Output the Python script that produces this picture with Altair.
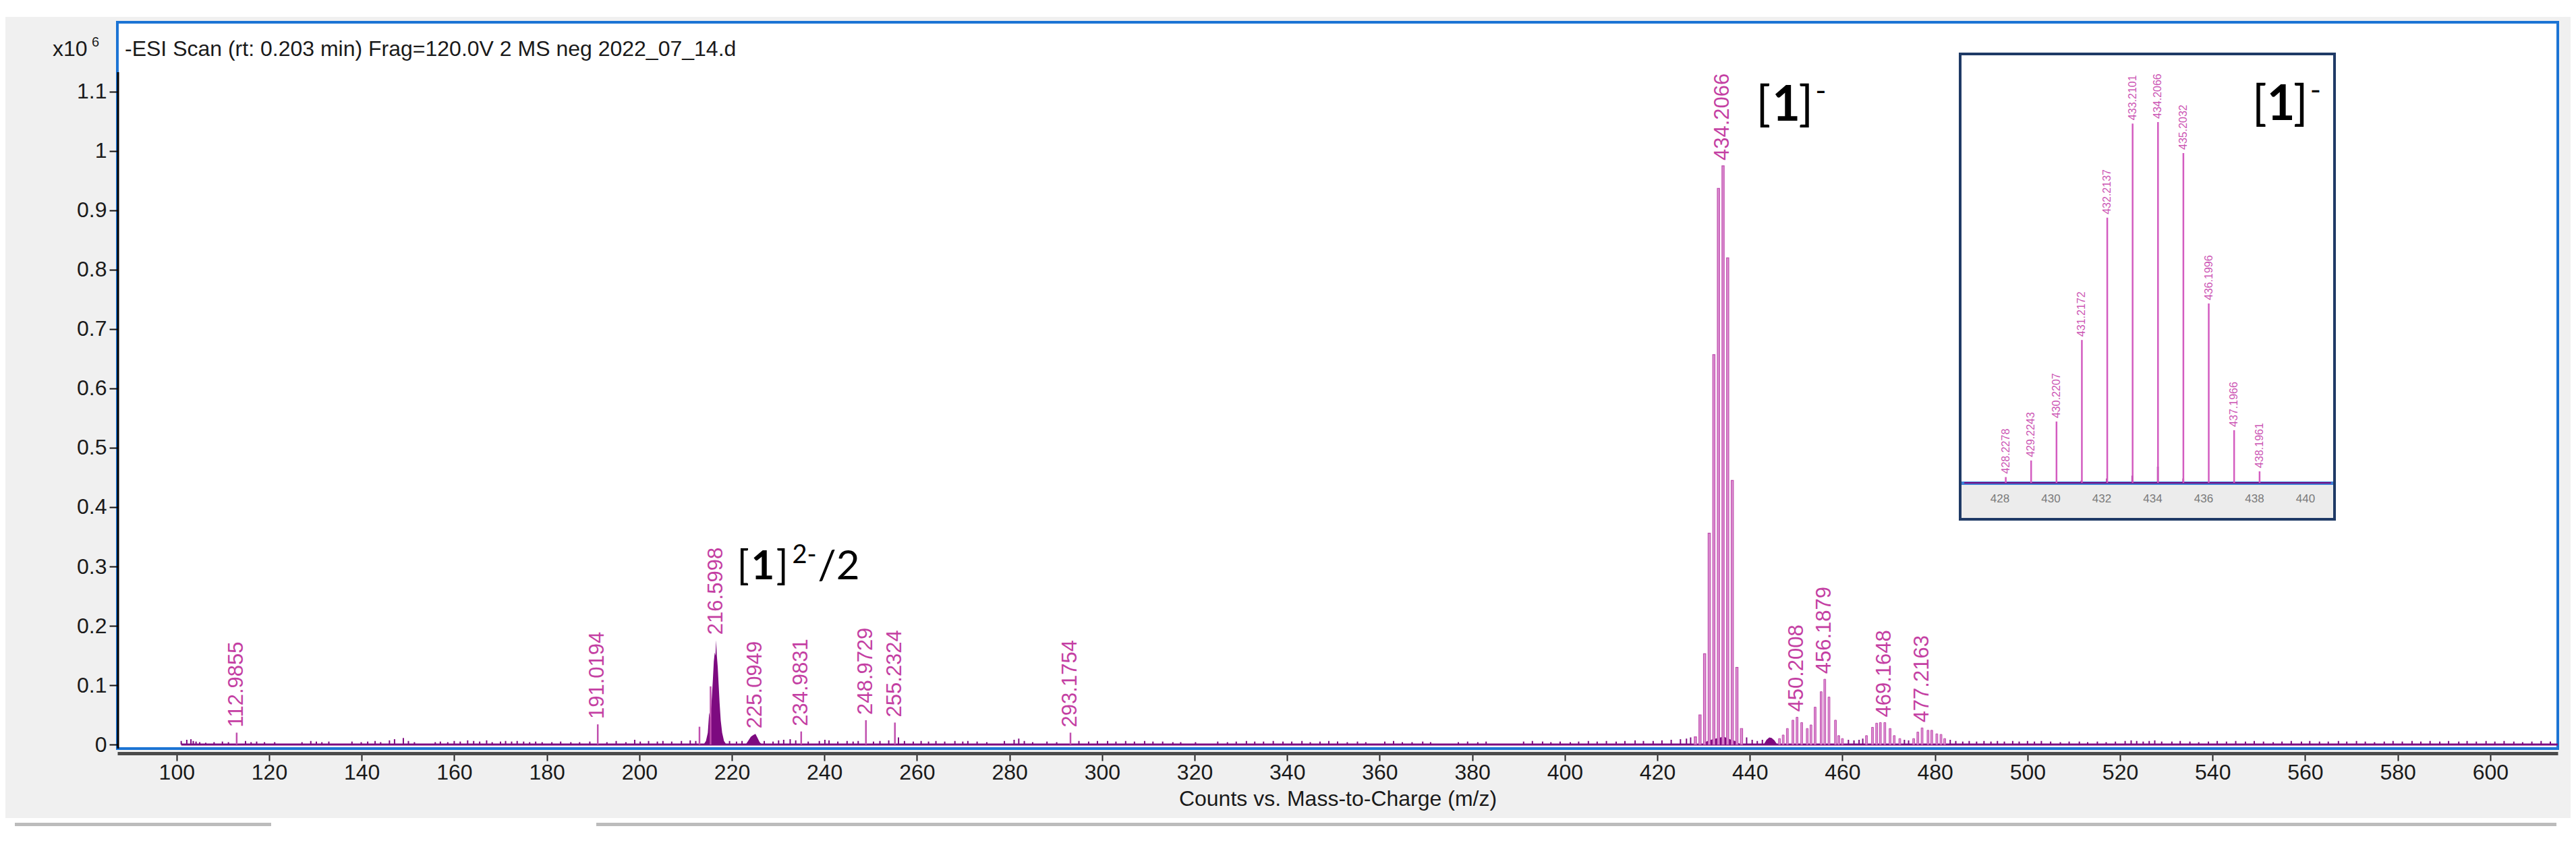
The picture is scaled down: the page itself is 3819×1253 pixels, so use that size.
import altair as alt
import pandas as pd

# ---------------- data (intensity in units of 10^6 counts) ----------------
label_mz = [112.9855, 191.0194, 216.5998, 225.0949, 234.9831, 248.9729,
            255.2324, 293.1754, 434.2066, 450.2008, 456.1879, 469.1648, 477.2163]
label_int = [0.020, 0.034, 0.176, 0.018, 0.022, 0.041,
             0.037, 0.020, 0.975, 0.046, 0.110, 0.037, 0.028]

spike_mz = [112.9855, 191.0194, 213.0, 215.4, 234.9831, 248.9729, 255.2324, 293.1754]
spike_int = [0.020, 0.034, 0.030, 0.098, 0.022, 0.041, 0.037, 0.020]

iso_mz = [428.2278, 429.2243, 430.2207, 431.2172, 432.2137, 433.2101,
          434.2066, 435.2032, 436.1996, 437.1966, 438.1961]
iso_int = [0.013, 0.050, 0.153, 0.356, 0.657, 0.937, 0.975, 0.820, 0.445, 0.130, 0.027]

adduct_mz = [446.4, 447.2, 448.1, 449.3, 450.2008, 451.2, 452.4, 453.2, 454.1, 455.4,
             456.1879, 457.1, 458.5, 459.2, 460.0, 465.2, 466.5, 467.4, 468.2,
             469.1648, 470.3, 471.2, 472.4, 475.4, 476.3, 477.2163, 478.5, 479.3,
             480.4, 481.3, 482.1]
adduct_int = [0.010, 0.016, 0.027, 0.041, 0.046, 0.037, 0.027, 0.033, 0.063, 0.089,
              0.110, 0.080, 0.041, 0.015, 0.010, 0.015, 0.029, 0.036, 0.037,
              0.037, 0.027, 0.015, 0.010, 0.010, 0.021, 0.028, 0.024, 0.024,
              0.018, 0.017, 0.010]

# dark filled profile regions
prof_group = (["a"] * 19) + (["b"] * 8) + (["c"] * 6) + (["d"] * 9)
prof_mz = [213.9, 214.4, 214.8, 215.1, 215.3, 215.6, 215.9, 216.1, 216.3, 216.45,
           216.6, 216.75, 216.95, 217.15, 217.35, 217.6, 217.9, 218.3, 218.8,
           223.0, 223.6, 224.1, 224.6, 225.1, 225.5, 226.0, 226.5,
           443.0, 443.6, 444.2, 444.7, 445.3, 445.9,
           429.8, 430.6, 431.6, 432.6, 433.6, 434.4, 435.6, 436.8, 438.0]
prof_int = [0.0, 0.006, 0.020, 0.054, 0.045, 0.070, 0.110, 0.140, 0.155, 0.150,
            0.176, 0.150, 0.130, 0.100, 0.070, 0.040, 0.020, 0.006, 0.0,
            0.0, 0.007, 0.013, 0.016, 0.018, 0.012, 0.004, 0.0,
            0.0, 0.008, 0.012, 0.011, 0.007, 0.0,
            0.0, 0.005, 0.008, 0.010, 0.012, 0.013, 0.009, 0.006, 0.0]

noise_mz = [101.0, 102.2, 103.1, 103.6, 104.2, 105.0, 106.3, 108.1, 109.9, 111.2, 114.9, 116.1,
            117.3, 119.0, 121.2, 127.1, 129.0, 130.2, 131.4, 132.9, 137.9, 139.9, 141.3, 142.9,
            144.1, 146.0, 147.1, 149.0, 150.1, 151.4, 155.9, 157.0, 158.6, 160.0, 161.3, 162.9,
            164.2, 165.5, 167.0, 168.2, 170.0, 171.1, 172.4, 173.6, 175.0, 176.3, 177.6, 179.0,
            181.1, 183.0, 185.2, 187.1, 189.3, 193.0, 195.0, 197.1, 199.0, 200.2, 202.0, 203.9,
            205.1, 207.0, 209.1, 211.0, 212.2, 219.5, 221.0, 222.2, 227.0, 228.9, 230.1, 231.2,
            232.6, 233.8, 236.5, 238.9, 240.1, 241.0, 242.9, 244.9, 246.2, 247.3, 250.6, 252.0,
            253.9, 256.0, 257.3, 259.2, 260.9, 262.5, 264.1, 266.0, 268.2, 269.9, 271.0, 273.0,
            275.1, 278.9, 281.0, 282.0, 283.2, 285.0, 288.1, 290.2, 295.0, 297.1, 299.0, 301.2,
            303.0, 305.1, 307.0, 309.2, 311.0, 313.1, 315.3, 317.0, 320.2, 325.0, 327.1, 329.0,
            331.2, 333.0, 334.9, 337.0, 339.1, 341.0, 343.2, 345.0, 347.1, 349.0, 350.9, 353.0,
            355.2, 357.0, 361.1, 363.0, 364.9, 367.0, 369.3, 371.0, 377.0, 379.0, 381.2, 383.0,
            391.1, 393.0, 395.2, 397.0, 399.0, 401.2, 403.0, 405.1, 407.0, 409.0, 411.1, 413.0,
            415.2, 417.0, 419.1, 421.0, 423.0, 425.0, 426.3, 427.2, 439.3, 440.5, 441.6, 442.7,
            461.3, 462.5, 463.6, 464.4, 473.4, 474.3, 483.3, 484.5, 486.0, 487.4, 489.0, 490.6,
            492.1, 493.5, 495.0, 496.8, 498.2, 500.0, 501.5, 503.0, 505.0, 507.1, 509.0, 511.2,
            513.0, 515.1, 517.0, 519.0, 521.1, 522.4, 523.6, 525.0, 526.3, 527.5, 529.0, 531.2,
            533.0, 535.1, 537.0, 539.1, 541.0, 543.0, 545.0, 547.1, 549.0, 551.0, 553.1, 555.0,
            557.0, 559.2, 561.0, 563.1, 565.0, 567.2, 569.0, 571.1, 573.0, 575.0, 577.1, 579.0,
            581.0, 583.1, 585.0, 587.0, 589.1, 591.0, 593.2, 595.0, 597.0, 599.1, 601.0, 603.0,
            605.1, 607.0, 609.0, 611.0, 613.0]
noise_int = [0.006, 0.008, 0.009, 0.006, 0.005, 0.004, 0.003, 0.004, 0.005, 0.004, 0.006, 0.004,
             0.005, 0.004, 0.004, 0.004, 0.006, 0.005, 0.004, 0.005, 0.005, 0.004, 0.005, 0.006,
             0.004, 0.007, 0.009, 0.011, 0.006, 0.004, 0.004, 0.005, 0.004, 0.006, 0.005, 0.007,
             0.006, 0.005, 0.007, 0.004, 0.005, 0.006, 0.005, 0.006, 0.005, 0.004, 0.005, 0.004,
             0.004, 0.005, 0.004, 0.004, 0.005, 0.004, 0.006, 0.004, 0.008, 0.005, 0.006, 0.005,
             0.006, 0.005, 0.006, 0.007, 0.006, 0.006, 0.005, 0.006, 0.006, 0.005, 0.007, 0.008,
             0.009, 0.007, 0.005, 0.006, 0.008, 0.007, 0.005, 0.006, 0.005, 0.006, 0.005, 0.006,
             0.007, 0.012, 0.006, 0.005, 0.006, 0.005, 0.006, 0.005, 0.006, 0.005, 0.006, 0.005,
             0.004, 0.006, 0.008, 0.010, 0.006, 0.004, 0.005, 0.004, 0.006, 0.005, 0.006, 0.006,
             0.005, 0.006, 0.005, 0.006, 0.005, 0.005, 0.004, 0.004, 0.004, 0.005, 0.004, 0.005,
             0.006, 0.005, 0.005, 0.006, 0.005, 0.005, 0.006, 0.004, 0.005, 0.006, 0.005, 0.004,
             0.005, 0.004, 0.005, 0.006, 0.004, 0.004, 0.005, 0.004, 0.004, 0.005, 0.004, 0.005,
             0.005, 0.006, 0.005, 0.004, 0.005, 0.004, 0.005, 0.006, 0.005, 0.006, 0.005, 0.006,
             0.007, 0.006, 0.006, 0.007, 0.008, 0.009, 0.010, 0.012, 0.012, 0.008, 0.006, 0.008,
             0.008, 0.007, 0.008, 0.010, 0.008, 0.007, 0.008, 0.006, 0.005, 0.006, 0.005, 0.006,
             0.005, 0.006, 0.005, 0.006, 0.005, 0.006, 0.005, 0.006, 0.005, 0.004, 0.005, 0.005,
             0.004, 0.005, 0.004, 0.005, 0.006, 0.007, 0.006, 0.005, 0.006, 0.007, 0.005, 0.005,
             0.006, 0.005, 0.004, 0.005, 0.006, 0.005, 0.006, 0.005, 0.006, 0.005, 0.004, 0.005,
             0.006, 0.005, 0.006, 0.005, 0.005, 0.006, 0.005, 0.006, 0.005, 0.004, 0.005, 0.006,
             0.005, 0.006, 0.005, 0.006, 0.005, 0.006, 0.005, 0.006, 0.005, 0.006, 0.005, 0.006,
             0.005, 0.004, 0.005, 0.006, 0.005]

x_ticks = list(range(100, 601, 20))
y_ticks = [0, 0.1, 0.2, 0.3, 0.4, 0.5, 0.6, 0.7, 0.8, 0.9, 1.0, 1.1]

# ---------------- inset (zoom of the [1]- isotope pattern) ----------------
inset_mz = iso_mz
inset_int = [0.016, 0.062, 0.170, 0.396, 0.735, 0.996, 1.0, 0.914, 0.497, 0.146, 0.032]
inset_dark_mz = [431.2, 432.2, 433.2, 434.2, 435.2]
inset_dark_int = [0.006, 0.012, 0.020, 0.045, 0.012]
inset_ticks = [428, 430, 432, 434, 436, 438, 440]

TITLE = "-ESI Scan (rt: 0.203 min) Frag=120.0V 2 MS neg 2022_07_14.d"
XTITLE = "Counts vs. Mass-to-Charge (m/z)"

# ---------------- styling ----------------
FONT = "Liberation Sans"
ANN = "Lato"
MAG = "#c43fa3"
LIGHT = "#dc90d2"
MID = "#c04fae"
DARK = "#7d0a80"
BLUE = "#1c74d4"

W, H = 3618, 1077
xs = alt.Scale(domain=[87.2, 614.6], nice=False, zero=False)
ys = alt.Scale(domain=[-0.0068, 1.217], nice=False, zero=False)

x_axis = alt.Axis(values=x_ticks, format="d", title=XTITLE, grid=False,
                  domain=True, domainColor="#4a4a4a", domainWidth=5, offset=7,
                  ticks=True, tickColor="#222222", tickWidth=2, tickSize=11,
                  labelFont=FONT, labelFontSize=32, labelColor="#1a1a1a", labelPadding=2,
                  labelFlush=False, labelOverlap=False,
                  titleFont=FONT, titleFontSize=32, titleFontWeight="normal",
                  titleColor="#1a1a1a", titlePadding=8)
y_axis = alt.Axis(values=y_ticks, format=".1~f", title=None, grid=False, domain=False,
                  ticks=True, tickColor="#111111", tickWidth=2, tickSize=12,
                  labelFont=FONT, labelFontSize=32, labelColor="#1a1a1a", labelPadding=4)


def X(field):
    return alt.X(field, scale=xs, axis=x_axis)


def Y(field):
    return alt.Y(field, scale=ys, axis=y_axis, stack=None)


one = pd.DataFrame({"k": [0]})


def pix_rect(x, x2, y, y2, **kw):
    return alt.Chart(one).mark_rect(**kw).encode(
        x=alt.value(x), x2=alt.value(x2), y=alt.value(y), y2=alt.value(y2))


def pix_text(txt, x, y, size, **kw):
    return alt.Chart(one).mark_text(text=txt, align="left", baseline="middle",
                                    fontSize=size, **kw).encode(x=alt.value(x), y=alt.value(y))


# ---------------- main layers ----------------
df_noise = pd.DataFrame({"mz": noise_mz, "i": noise_int})
df_prof = pd.DataFrame({"g": prof_group, "mz": prof_mz, "i": prof_int})
df_spike = pd.DataFrame({"mz": spike_mz, "i": spike_int})
df_iso = pd.DataFrame({"mz": iso_mz, "i": iso_int})
df_add = pd.DataFrame({"mz": adduct_mz, "i": adduct_int})
df_lab = pd.DataFrame({"mz": label_mz, "i": label_int,
                       "t": [f"{m:.4f}" for m in label_mz]})

top_strip = pix_rect(-170, W + 25, -30, -8, fill="white")
bottom_strip = pix_rect(-170, W + 25, 1180, 1215, fill="white")
scroll1 = pix_rect(-152, 228, 1187, 1192, fill="#bcbcbc")
scroll2 = pix_rect(710, W - 2, 1187, 1192, fill="#bcbcbc")

baseline = alt.Chart(pd.DataFrame({"mz": [101.0], "mz2": [614.6], "i": [0.0]})).mark_rule(
    color=DARK, strokeWidth=3).encode(x=X("mz:Q"), x2="mz2:Q", y=Y("i:Q"))

noise = alt.Chart(df_noise).mark_rule(color=DARK, strokeWidth=2).encode(
    x=X("mz:Q"), y=Y("i:Q"), y2=alt.datum(0))

prof = alt.Chart(df_prof).mark_area(color=DARK, opacity=1, interpolate="linear").encode(
    x=X("mz:Q"), y=Y("i:Q"), y2=alt.datum(0), detail="g:N")

spikes = alt.Chart(df_spike).mark_rule(color=MID, strokeWidth=2.5).encode(
    x=X("mz:Q"), y=Y("i:Q"), y2=alt.datum(0))

adducts = alt.Chart(df_add).transform_calculate(
    a="datum.mz - 0.2", b="datum.mz + 0.2").mark_rect(
    fill=LIGHT, stroke=MID, strokeWidth=1).encode(
    x=X("a:Q"), x2="b:Q", y=Y("i:Q"), y2=alt.datum(0))

iso = alt.Chart(df_iso).transform_calculate(
    a="datum.mz - 0.24", b="datum.mz + 0.24").mark_rect(
    fill=LIGHT, stroke=MID, strokeWidth=1.2).encode(
    x=X("a:Q"), x2="b:Q", y=Y("i:Q"), y2=alt.datum(0))

yline = alt.Chart(pd.DataFrame({"i": [1.133]})).mark_rule(color="black", strokeWidth=3).encode(
    x=alt.value(1), y=Y("i:Q"), y2=alt.value(H))

labels = alt.Chart(df_lab).mark_text(angle=270, align="left", baseline="middle", dx=8,
                                     font=FONT, fontSize=31, color=MAG).encode(
    x=X("mz:Q"), y=Y("i:Q"), text="t:N")


def piece(df, txt, xsc, ysc, xax, yax, size, dx, dy=0, bold=False):
    return alt.Chart(df).mark_text(text=txt, align="left", baseline="middle", font=ANN,
                                   fontSize=size, fontWeight="bold" if bold else "normal",
                                   dx=dx, dy=dy, color="black").encode(
        x=alt.X("mz:Q", scale=xsc, axis=xax), y=alt.Y("i:Q", scale=ysc, axis=yax))


a1 = pd.DataFrame({"mz": [441.3], "i": [1.076]})
ann1 = [piece(a1, "[", xs, ys, x_axis, y_axis, 72, 0),
        piece(a1, "1", xs, ys, x_axis, y_axis, 72, 24, bold=True),
        piece(a1, "]", xs, ys, x_axis, y_axis, 72, 63),
        piece(a1, "-", xs, ys, x_axis, y_axis, 44, 88, dy=-20)]

a2 = pd.DataFrame({"mz": [221.1], "i": [0.299]})
ann2 = [piece(a2, "[", xs, ys, x_axis, y_axis, 60, 0),
        piece(a2, "1", xs, ys, x_axis, y_axis, 60, 21, bold=True),
        piece(a2, "]", xs, ys, x_axis, y_axis, 60, 58),
        piece(a2, "2-", xs, ys, x_axis, y_axis, 38, 82, dy=-17),
        piece(a2, "/2", xs, ys, x_axis, y_axis, 60, 120)]

title = pix_text(TITLE, 11, 40, 32, font=FONT, color="#1a1a1a")
x10 = pix_text("x10", -96, 40, 32, font=FONT, color="#1a1a1a")
x10e = pix_text("6", -38, 30, 20, font=FONT, color="#1a1a1a")

main = alt.layer(top_strip, bottom_strip, scroll1, scroll2, baseline, noise, prof, spikes,
                 adducts, iso, yline, labels, *ann1, *ann2, title, x10, x10e)

# ---------------- inset layers ----------------
ixs = alt.Scale(domain=[428, 440], range=[2791, 3244], nice=False, zero=False)
iys = alt.Scale(domain=[0, 1], range=[683, 148], nice=False, zero=False)
NOAX = None

df_in = pd.DataFrame({"mz": inset_mz, "i": inset_int,
                      "t": [f"{m:.4f}" for m in inset_mz]})
df_ind = pd.DataFrame({"mz": inset_dark_mz, "i": inset_dark_int})
df_it = pd.DataFrame({"mz": inset_ticks, "t": [str(v) for v in inset_ticks]})

ibox = pix_rect(2732, 3287, 47, 737, fill="white", stroke="#1f3a66", strokeWidth=4)
iband = pix_rect(2734, 3285, 686, 735, fill="#ececec")
iblue = pix_rect(2734, 3285, 681, 686, fill="#3f7fd6")

iline = alt.Chart(pd.DataFrame({"mz": [426.6], "mz2": [441.0], "i": [0.0]})).mark_rule(
    color=DARK, strokeWidth=2).encode(
    x=alt.X("mz:Q", scale=ixs, axis=NOAX), x2="mz2:Q", y=alt.Y("i:Q", scale=iys, axis=NOAX))

idark = alt.Chart(df_ind).mark_rule(color=DARK, strokeWidth=2.5).encode(
    x=alt.X("mz:Q", scale=ixs, axis=NOAX), y=alt.Y("i:Q", scale=iys, axis=NOAX),
    y2=alt.datum(0))

ibars = alt.Chart(df_in).mark_rule(color="#d35cc0", strokeWidth=2.5).encode(
    x=alt.X("mz:Q", scale=ixs, axis=NOAX), y=alt.Y("i:Q", scale=iys, axis=NOAX),
    y2=alt.datum(0))

ilabels = alt.Chart(df_in).mark_text(angle=270, align="left", baseline="middle", dx=5,
                                     font=FONT, fontSize=16, color="#cc55b4").encode(
    x=alt.X("mz:Q", scale=ixs, axis=NOAX), y=alt.Y("i:Q", scale=iys, axis=NOAX), text="t:N")

iticks = alt.Chart(df_it).mark_text(align="center", baseline="middle", font=FONT,
                                    fontSize=17, color="#7a7a7a").encode(
    x=alt.X("mz:Q", scale=ixs, axis=NOAX), y=alt.value(707), text="t:N")

a3 = pd.DataFrame({"mz": [437.9], "i": [1.047]})
ann3 = [piece(a3, "[", ixs, iys, NOAX, NOAX, 72, 0),
        piece(a3, "1", ixs, iys, NOAX, NOAX, 72, 22, bold=True),
        piece(a3, "]", ixs, iys, NOAX, NOAX, 72, 61),
        piece(a3, "-", ixs, iys, NOAX, NOAX, 44, 86, dy=-20)]

inset = alt.layer(ibox, iband, iblue, iline, idark, ibars, ilabels, iticks, *ann3)

chart = alt.layer(main, inset).resolve_scale(
    x="independent", y="independent"
).properties(
    width=W, height=H,
    autosize=alt.AutoSizeParams(type="none"),
    padding={"left": 166, "top": 25, "right": 19, "bottom": 135},
    background="#f0f0f0",
).configure_view(fill="white", stroke=BLUE, strokeWidth=4)

chart.save("out.html", embed_options={"renderer": "svg", "actions": False})
